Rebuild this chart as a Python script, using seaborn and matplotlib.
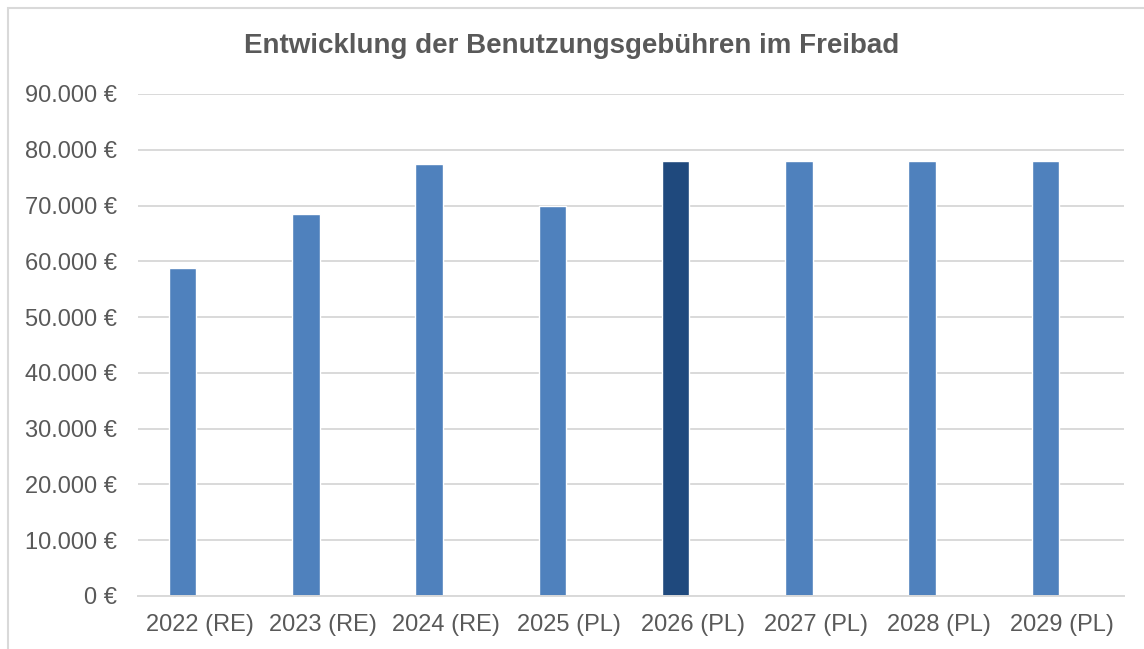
import numpy as np
import pandas as pd
import seaborn as sns
import matplotlib.pyplot as plt
from matplotlib.ticker import FuncFormatter
from matplotlib.patches import Rectangle

# Data
categories = ["2022 (RE)", "2023 (RE)", "2024 (RE)", "2025 (PL)",
              "2026 (PL)", "2027 (PL)", "2028 (PL)", "2029 (PL)"]
values = [58800, 68400, 77400, 70000, 78000, 78000, 78000, 78000]
bar_colors = ["#4F81BD", "#4F81BD", "#4F81BD", "#4F81BD",
              "#1F497D", "#4F81BD", "#4F81BD", "#4F81BD"]
y_ticks = [0, 10000, 20000, 30000, 40000, 50000, 60000, 70000, 80000, 90000]

df = pd.DataFrame({"Jahr": categories, "Betrag": values})

sns.set_theme(style="white")
plt.rcParams["font.family"] = ["Liberation Sans", "DejaVu Sans"]

text_color = "#595959"
grid_color = "#D9D9D9"

fig = plt.figure(figsize=(11.44, 6.49), dpi=100)
ax = fig.add_axes([0.1206, 0.0817, 0.8619, 0.7735])

sns.barplot(data=df, x="Jahr", y="Betrag", hue="Jahr", palette=bar_colors,
            width=0.223, legend=False, ax=ax, saturation=1)

# bars sit left of the category centre (empty second series in the original)
for p in ax.patches:
    p.set_x(p.get_x() - 0.137)

ax.set_ylim(0, 90000)
ax.set_xlim(-0.5, len(categories) - 0.5)
ax.set_yticks(y_ticks)
ax.yaxis.set_major_formatter(FuncFormatter(lambda v, _: f"{int(v):,} €".replace(",", ".")))
ax.grid(axis="y", color=grid_color, linewidth=1.4)
ax.set_axisbelow(True)
for side in ["left", "right", "top"]:
    ax.spines[side].set_visible(False)
ax.spines["bottom"].set_color(grid_color)
ax.spines["bottom"].set_linewidth(1.4)
ax.tick_params(axis="both", length=0, labelsize=17, colors=text_color)
ax.tick_params(axis="y", pad=15)
ax.tick_params(axis="x", pad=13)
ax.set_xlabel("")
ax.set_ylabel("")

fig.text(0.5, 0.929, "Entwicklung der Benutzungsgebühren im Freibad",
         ha="center", va="center", fontsize=20, fontweight="bold", color=text_color)

# chart border
fig.patches.append(Rectangle((8 / 1144, -0.1), 1.2, (649 - 8) / 649 + 0.1,
                             transform=fig.transFigure, fill=False,
                             edgecolor=grid_color, linewidth=1.5))

plt.savefig("out.png", dpi=100)
